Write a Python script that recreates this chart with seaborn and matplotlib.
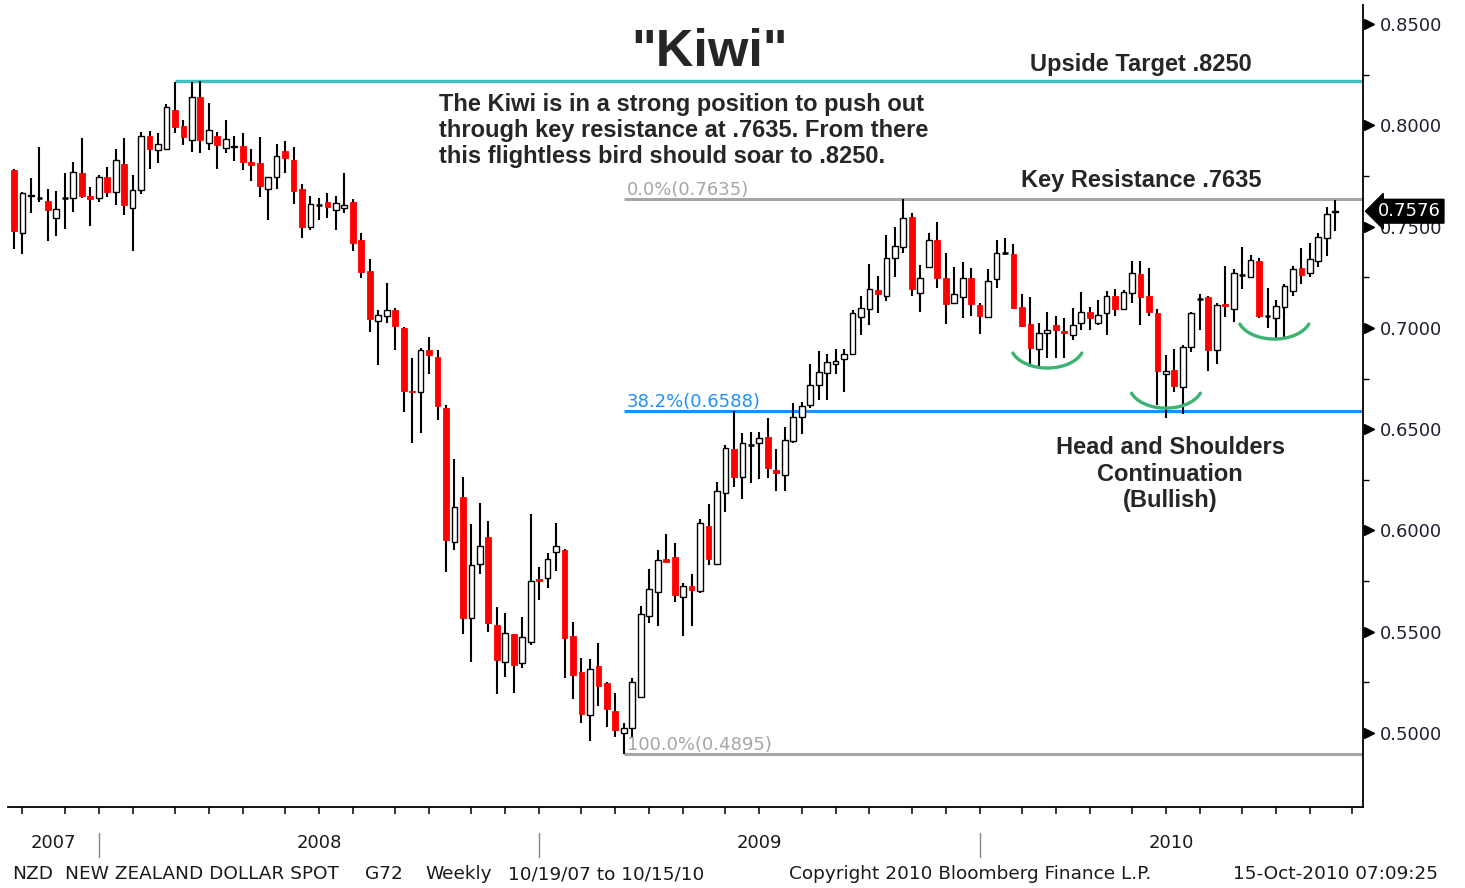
import numpy as np
import pandas as pd
import matplotlib
matplotlib.use('Agg')
import matplotlib.pyplot as plt
import matplotlib.transforms as mtransforms
import seaborn as sns

# weekly NZD/USD bars, 10/19/07 .. 10/15/10
opens = [0.7779, 0.7468, 0.7651, 0.7641, 0.7626, 0.7542, 0.7639, 0.7641, 0.7765, 0.7651,
         0.7641, 0.7745, 0.7671, 0.7809, 0.7592, 0.7681, 0.7947, 0.7878, 0.7883, 0.8076,
         0.7997, 0.7927, 0.8140, 0.7913, 0.7947, 0.7888, 0.7893, 0.7898, 0.7819, 0.7814,
         0.7686, 0.7745, 0.7873, 0.7829, 0.7686, 0.7498, 0.7607, 0.7621, 0.7582, 0.7592,
         0.7621, 0.7434, 0.7281, 0.7034, 0.7059, 0.7088, 0.6999, 0.6688, 0.6684, 0.6891,
         0.6856, 0.6605, 0.5943, 0.6165, 0.5568, 0.5835, 0.5968, 0.5533, 0.5351, 0.5489,
         0.5346, 0.5450, 0.5760, 0.5765, 0.5894, 0.5904, 0.5479, 0.5302, 0.5089, 0.5331,
         0.5247, 0.5109, 0.5002, 0.5025, 0.5178, 0.5578, 0.5696, 0.5859, 0.5869, 0.5672,
         0.5726, 0.5701, 0.6022, 0.5835, 0.6185, 0.6402, 0.6264, 0.6422, 0.6432, 0.6461,
         0.6298, 0.6274, 0.6442, 0.6560, 0.6619, 0.6718, 0.6777, 0.6822, 0.6846, 0.6871,
         0.7054, 0.7093, 0.7187, 0.7158, 0.7345, 0.7399, 0.7547, 0.7172, 0.7301, 0.7434,
         0.7246, 0.7123, 0.7153, 0.7246, 0.7113, 0.7054, 0.7241, 0.7370, 0.7365, 0.7103,
         0.7019, 0.6896, 0.6975, 0.7014, 0.6985, 0.6965, 0.7024, 0.7078, 0.7024, 0.7073,
         0.7158, 0.7093, 0.7172, 0.7266, 0.7158, 0.7073, 0.6772, 0.6792, 0.6708, 0.6906,
         0.7143, 0.7153, 0.6891, 0.7118, 0.7093, 0.7261, 0.7251, 0.7330, 0.7059, 0.7049,
         0.7103, 0.7182, 0.7296, 0.7271, 0.7330, 0.7444, 0.7570]
highs = [0.7784, 0.7671, 0.7740, 0.7893, 0.7686, 0.7676, 0.7765, 0.7819, 0.7937, 0.7695,
         0.7755, 0.7794, 0.7883, 0.7937, 0.7755, 0.7967, 0.7972, 0.7962, 0.8105, 0.8215,
         0.8026, 0.8215, 0.8219, 0.8110, 0.7967, 0.8026, 0.7947, 0.7962, 0.7883, 0.7942,
         0.7745, 0.7908, 0.7922, 0.7893, 0.7710, 0.7651, 0.7641, 0.7666, 0.7651, 0.7765,
         0.7636, 0.7468, 0.7340, 0.7088, 0.7222, 0.7098, 0.7004, 0.6851, 0.6901, 0.6955,
         0.6891, 0.6619, 0.6353, 0.6264, 0.6032, 0.6136, 0.6047, 0.5622, 0.5593, 0.5489,
         0.5573, 0.6081, 0.5820, 0.5889, 0.6037, 0.5909, 0.5548, 0.5371, 0.5366, 0.5445,
         0.5252, 0.5198, 0.5050, 0.5272, 0.5627, 0.5810, 0.5904, 0.5983, 0.5938, 0.5741,
         0.5785, 0.6057, 0.6131, 0.6239, 0.6422, 0.6588, 0.6481, 0.6486, 0.6486, 0.6555,
         0.6402, 0.6511, 0.6629, 0.6634, 0.6822, 0.6886, 0.6871, 0.6896, 0.6896, 0.7088,
         0.7158, 0.7315, 0.7256, 0.7459, 0.7498, 0.7635, 0.7567, 0.7310, 0.7468, 0.7523,
         0.7370, 0.7301, 0.7325, 0.7296, 0.7123, 0.7291, 0.7434, 0.7444, 0.7414, 0.7167,
         0.7153, 0.7024, 0.7078, 0.7059, 0.7049, 0.7098, 0.7177, 0.7103, 0.7138, 0.7182,
         0.7192, 0.7187, 0.7330, 0.7330, 0.7296, 0.7093, 0.6866, 0.6896, 0.6916, 0.7078,
         0.7167, 0.7158, 0.7123, 0.7306, 0.7291, 0.7399, 0.7360, 0.7345, 0.7197, 0.7138,
         0.7217, 0.7306, 0.7394, 0.7419, 0.7468, 0.7597, 0.7631]
lows = [0.7389, 0.7365, 0.7567, 0.7621, 0.7429, 0.7454, 0.7488, 0.7572, 0.7641, 0.7503,
        0.7621, 0.7646, 0.7607, 0.7557, 0.7380, 0.7661, 0.7784, 0.7814, 0.7878, 0.7962,
        0.7903, 0.7868, 0.7863, 0.7878, 0.7784, 0.7863, 0.7824, 0.7779, 0.7725, 0.7646,
        0.7533, 0.7686, 0.7765, 0.7612, 0.7444, 0.7483, 0.7533, 0.7542, 0.7483, 0.7567,
        0.7380, 0.7246, 0.6980, 0.6817, 0.7024, 0.6891, 0.6585, 0.6432, 0.6481, 0.6772,
        0.6545, 0.5795, 0.5904, 0.5489, 0.5351, 0.5785, 0.5499, 0.5193, 0.5277, 0.5198,
        0.5322, 0.5435, 0.5657, 0.5716, 0.5800, 0.5272, 0.5168, 0.5050, 0.4961, 0.5134,
        0.5030, 0.4981, 0.4895, 0.4981, 0.5178, 0.5543, 0.5529, 0.5844, 0.5647, 0.5479,
        0.5529, 0.5691, 0.5830, 0.5835, 0.6091, 0.6215, 0.6155, 0.6234, 0.6254, 0.6259,
        0.6195, 0.6195, 0.6432, 0.6476, 0.6605, 0.6644, 0.6644, 0.6772, 0.6684, 0.6871,
        0.6965, 0.7014, 0.7073, 0.7133, 0.7251, 0.7370, 0.7158, 0.7078, 0.7301, 0.7197,
        0.7019, 0.7118, 0.7049, 0.7059, 0.6970, 0.7054, 0.7197, 0.7360, 0.7093, 0.7004,
        0.6807, 0.6812, 0.6851, 0.6851, 0.6851, 0.6940, 0.6990, 0.6990, 0.7014, 0.6965,
        0.7059, 0.7088, 0.7123, 0.7014, 0.7059, 0.6619, 0.6555, 0.6684, 0.6575, 0.6881,
        0.6990, 0.6787, 0.6822, 0.7054, 0.7029, 0.7192, 0.7251, 0.7049, 0.6999, 0.6950,
        0.6955, 0.7158, 0.7217, 0.7251, 0.7301, 0.7355, 0.7478]
closes = [0.7478, 0.7666, 0.7656, 0.7641, 0.7582, 0.7587, 0.7639, 0.7769, 0.7651, 0.7636,
          0.7745, 0.7671, 0.7829, 0.7607, 0.7681, 0.7947, 0.7883, 0.7908, 0.8090, 0.7992,
          0.7942, 0.8140, 0.7927, 0.7977, 0.7903, 0.7932, 0.7898, 0.7819, 0.7804, 0.7700,
          0.7745, 0.7848, 0.7839, 0.7676, 0.7498, 0.7612, 0.7607, 0.7597, 0.7616, 0.7607,
          0.7419, 0.7276, 0.7044, 0.7064, 0.7088, 0.7009, 0.6688, 0.6684, 0.6891, 0.6866,
          0.6614, 0.5953, 0.6116, 0.5568, 0.5830, 0.5923, 0.5543, 0.5361, 0.5494, 0.5336,
          0.5474, 0.5751, 0.5751, 0.5859, 0.5923, 0.5469, 0.5287, 0.5094, 0.5317, 0.5232,
          0.5119, 0.5015, 0.5025, 0.5252, 0.5588, 0.5711, 0.5854, 0.5844, 0.5681, 0.5726,
          0.5706, 0.6037, 0.5859, 0.6195, 0.6407, 0.6264, 0.6432, 0.6422, 0.6456, 0.6308,
          0.6284, 0.6447, 0.6560, 0.6614, 0.6718, 0.6782, 0.6832, 0.6837, 0.6871, 0.7073,
          0.7098, 0.7192, 0.7167, 0.7345, 0.7404, 0.7542, 0.7192, 0.7246, 0.7434, 0.7246,
          0.7118, 0.7167, 0.7246, 0.7118, 0.7059, 0.7231, 0.7370, 0.7370, 0.7098, 0.7009,
          0.6901, 0.6975, 0.6990, 0.6990, 0.6975, 0.7014, 0.7078, 0.7049, 0.7064, 0.7158,
          0.7093, 0.7177, 0.7271, 0.7153, 0.7078, 0.6787, 0.6787, 0.6713, 0.6906, 0.7073,
          0.7143, 0.6891, 0.7113, 0.7108, 0.7271, 0.7261, 0.7335, 0.7059, 0.7059, 0.7108,
          0.7207, 0.7291, 0.7261, 0.7340, 0.7449, 0.7562, 0.7576]

start_date = '2007-10-19'
year_labels = ['2007', '2008', '2009', '2010']
fib_levels = [0.7635, 0.6588, 0.4895]
fib_labels = ['0.0%(0.7635)', '38.2%(0.6588)', '100.0%(0.4895)']
fib_colors = ['#a6a6a6', '#1e8fff', '#a6a6a6']
peak_level = 0.8219
peak_bar = 19
low_bar = 72
last_price = 0.7576
hs_bars = [122, 136, 148.8]       # left shoulder, head, right shoulder
hs_lows = [0.6802, 0.6604, 0.6945]

df = pd.DataFrame({'open': opens, 'high': highs, 'low': lows, 'close': closes})
df['x'] = np.arange(len(df))
df['date'] = pd.date_range(start_date, periods=len(df), freq='7D')

sns.set_theme(style='white')
plt.rcParams['font.family'] = ['DejaVu Sans']

fig = plt.figure(figsize=(14.65, 8.88), dpi=100)
ax = fig.add_axes([8 / 1465, 81 / 888, 1355 / 1465, 802 / 888])
XMIN, XMAX = -0.71, 159.27
ax.set_xlim(XMIN, XMAX)
ax.set_ylim(0.4635, 0.8594)

# candles
w = 0.68
up = df[df['close'] > df['open']]
dn = df[df['close'] < df['open']]
dj = df[df['close'] == df['open']]
ax.vlines(df['x'], df['low'], df['high'], color='black', lw=1.5, zorder=2)
ax.bar(up['x'], up['close'] - up['open'], bottom=up['open'], width=w,
       color='white', edgecolor='black', lw=1.0, zorder=3)
ax.bar(dn['x'], dn['open'] - dn['close'], bottom=dn['close'], width=w,
       color='#ff0000', edgecolor='#ff0000', lw=0.6, zorder=3)
ax.hlines(dj['close'], dj['x'] - w / 2, dj['x'] + w / 2, color='black', lw=1.8, zorder=3)

# fibonacci / target lines
ax.hlines(peak_level, peak_bar, XMAX, color='#3fc0c0', lw=2.4, zorder=1)
for lvl, lab, col in zip(fib_levels, fib_labels, fib_colors):
    ax.hlines(lvl, low_bar, XMAX, color=col, lw=2.2, zorder=1)
    ax.annotate(lab, (low_bar + 0.35, lvl), xytext=(0, 0.5), textcoords='offset points',
                ha='left', va='bottom', color=col, fontsize=13)

# head and shoulders arcs (drawn as elliptical segments)
t = np.radians(np.linspace(200, 340, 60))
a_half, b_half = 4.33, 0.01125
for cx, lo in zip(hs_bars, hs_lows):
    ax.plot(cx + a_half * np.cos(t), lo + b_half + b_half * np.sin(t),
            color='#3cb371', lw=2.4, solid_capstyle='round', zorder=4)

# axes styling
for s in ['left', 'top']:
    ax.spines[s].set_visible(False)
for s in ['right', 'bottom']:
    ax.spines[s].set_visible(True)
    ax.spines[s].set_color('black')
    ax.spines[s].set_linewidth(1.3)

# x ticks: last weekly bar of each month
all_dates = pd.date_range(start_date, periods=162, freq='7D')
month_ticks = [i for i in range(len(all_dates) - 1)
               if all_dates[i].month != all_dates[i + 1].month and i < XMAX]
year_seps = [i for i in range(len(all_dates) - 1)
             if all_dates[i].year != all_dates[i + 1].year]
ax.set_xticks(month_ticks)
ax.tick_params(axis='x', bottom=True, direction='out', length=5, width=1.1,
               color='black', labelbottom=False)

# y axis on the right
yt = np.arange(0.50, 0.8501, 0.05)
ax.yaxis.tick_right()
ax.set_yticks(yt)
ax.set_yticklabels([f'{v:.4f}' for v in yt])
ax.set_yticks(np.arange(0.525, 0.83, 0.05), minor=True)
ax.tick_params(axis='y', which='major', right=True, left=False, length=0, pad=12,
               labelsize=13, labelcolor='#202030')
ax.tick_params(axis='y', which='minor', right=True, left=False, direction='out',
               length=4, width=1, color='black')
tr = mtransforms.blended_transform_factory(ax.transAxes, ax.transData)
ax.plot(np.full(len(yt), 1.0045), yt, ls='none', marker='>', ms=7, color='black',
        transform=tr, clip_on=False)
ax.text(1.0112, last_price, '0.7576', transform=tr, color='white', fontsize=13,
        ha='left', va='center', zorder=6,
        bbox=dict(boxstyle='larrow,pad=0.16', fc='black', ec='black'))

# year labels and separators under the axis
trx = mtransforms.blended_transform_factory(ax.transData, ax.transAxes)
edges = [XMIN] + year_seps + [XMAX]
for lab, a, b in zip(year_labels, edges[:-1], edges[1:]):
    ax.text((a + b) / 2, -0.0449, lab, transform=trx, ha='center', va='center',
            fontsize=13, color='#1a1a1a', clip_on=False)
for s in year_seps:
    ax.plot([s, s], [-0.0324, -0.0623], transform=trx, color='#888888', lw=1,
            clip_on=False)

# annotations
fig.text(710 / 1465, 1 - 52 / 888, '"Kiwi"', ha='center', va='center',
         fontsize=37.5, fontweight='bold', family='Liberation Sans')
bold = dict(fontsize=17, fontweight='bold', family='Liberation Sans', va='center')
fig.text(1030 / 1465, 1 - 65 / 888, 'Upside Target .8250', ha='left', **bold)
fig.text(1021 / 1465, 1 - 180 / 888, 'Key Resistance .7635', ha='left', **bold)
note = ['The Kiwi is in a strong position to push out',
        'through key resistance at .7635. From there',
        'this flightless bird should soar to .8250.']
for k, line in enumerate(note):
    fig.text(439 / 1465, 1 - (104 + 26 * k) / 888, line, ha='left', **bold)
hs_text = ['Head and Shoulders', 'Continuation', '(Bullish)']
for k, line in enumerate(hs_text):
    fig.text(1170 / 1465, 1 - (448 + 26 * k) / 888, line, ha='center', **bold)

# footer
footer = [(12, 'NZD'), (65, 'NEW ZEALAND DOLLAR SPOT'), (365, 'G72'), (425, 'Weekly'),
          (508, '10/19/07 to 10/15/10'), (789, 'Copyright 2010 Bloomberg Finance L.P.'),
          (1233, '15-Oct-2010 07:09:25')]
for px, txt in footer:
    fig.text(px / 1465, 1 - 874 / 888, txt, ha='left', va='center', fontsize=13.3,
             color='#1a1a1a')

fig.savefig('out.png', dpi=100)
